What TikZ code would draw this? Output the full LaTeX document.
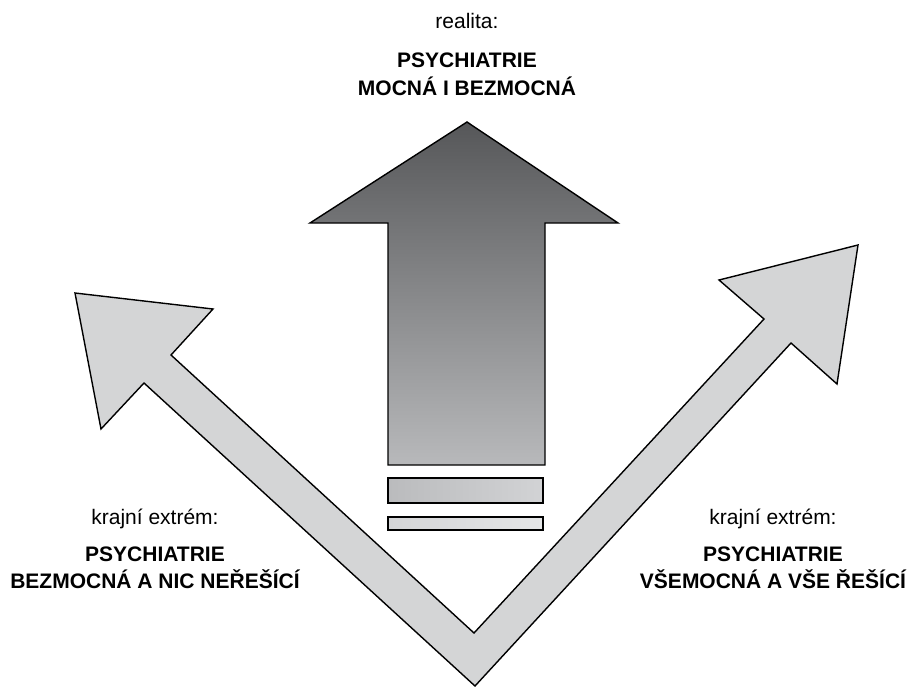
\documentclass[tikz,border=0pt]{standalone}
\usepackage{fontspec}
\setmainfont{Liberation Sans}
\usetikzlibrary{positioning}

\tikzset{
  outline/.style={draw=black, line width=1.4pt, line join=miter},
  label/.style={anchor=base, inner sep=0pt, font=\fontsize{21}{25}\selectfont},
  title/.style={label, font=\fontsize{21}{25}\selectfont\bfseries},
}

\begin{document}
\begin{tikzpicture}[x=1pt, y=-1pt]
    \useasboundingbox (0, 0) rectangle (913, 686);

    % the V with both arrows
    \filldraw [outline, fill={rgb,255:red,212;green,213;blue,214}]
      (475, 686) -- (144, 383) -- (101, 429) -- (75, 293) -- (213, 309)
      -- (171, 355) -- (474, 633) -- (764, 319) -- (719, 280) -- (858, 245)
      -- (837, 384) -- (791, 343) -- cycle;

    % middle arrow
    \shade [outline, top color={rgb,255:red,86;green,87;blue,89},
            bottom color={rgb,255:red,184;green,185;blue,187}]
      (467, 122) -- (618, 223) -- (545, 223) -- (545, 465)
      -- (388, 465) -- (388, 223) -- (310, 223) -- cycle;

    \shade [outline, left color={rgb,255:red,186;green,187;blue,189},
            right color={rgb,255:red,210;green,211;blue,213}]
      (388, 478) rectangle (543, 503);
    \shade [outline, left color={rgb,255:red,212;green,213;blue,215},
            right color={rgb,255:red,229;green,230;blue,231}]
      (388, 517) rectangle (543, 530);

    \node [label] (real) at (467, 28) {realita:};
    \node [title] (realA) at (467, 67) {PSYCHIATRIE};
    \node [title] (realB) at (467, 95) {MOCNÁ I BEZMOCNÁ};

    \node [label] (leftk) at (155, 524) {krajní extrém:};
    \node [title] (leftA) at (155, 561) {PSYCHIATRIE};
    \node [title] (leftB) at (155, 588) {BEZMOCNÁ A NIC NEŘEŠÍCÍ};

    \node [label] (rightk) at (773, 524) {krajní extrém:};
    \node [title] (rightA) at (773, 561) {PSYCHIATRIE};
    \node [title] (rightB) at (773, 588) {VŠEMOCNÁ A VŠE ŘEŠÍCÍ};
  \end{tikzpicture}
\end{document}
